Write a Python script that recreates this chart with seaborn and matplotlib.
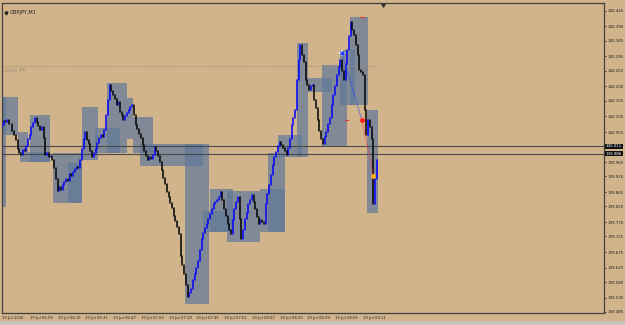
import matplotlib
matplotlib.use("Agg")
import matplotlib.pyplot as plt
import matplotlib.transforms as mtransforms
from matplotlib.patches import Rectangle
import numpy as np
import pandas as pd
import seaborn as sns

# GBPJPY M1 closes, one per minute starting 19 Jul 2016 05:43
closes = [
    140.079, 140.090, 140.088, 140.095, 140.080, 140.082, 140.060, 140.047, 140.030, 140.000,
    139.990, 139.984, 139.998, 139.994, 140.010, 140.032, 140.045, 140.070, 140.085, 140.101,
    140.088, 140.075, 140.063, 140.070, 140.038, 139.984, 139.990, 139.975, 139.980, 139.968,
    139.940, 139.905, 139.867, 139.880, 139.872, 139.889, 139.898, 139.905, 139.900, 139.921,
    139.915, 139.930, 139.937, 139.945, 139.940, 139.968, 140.000, 140.032, 140.054, 140.030,
    140.016, 139.995, 139.975, 139.990, 140.000, 140.020, 140.035, 140.047, 140.040, 140.063,
    140.110, 140.158, 140.205, 140.185, 140.174, 140.160, 140.142, 140.150, 140.120, 140.110,
    140.095, 140.105, 140.115, 140.126, 140.135, 140.142, 140.110, 140.079, 140.065, 140.050,
    140.038, 140.015, 139.994, 139.980, 139.968, 139.975, 139.970, 139.984, 140.009, 139.995,
    139.978, 139.960, 139.935, 139.911, 139.890, 139.864, 139.850, 139.832, 139.815, 139.790,
    139.772, 139.755, 139.731, 139.662, 139.635, 139.605, 139.570, 139.532, 139.545, 139.557,
    139.585, 139.605, 139.625, 139.646, 139.680, 139.716, 139.735, 139.750, 139.763, 139.780,
    139.795, 139.810, 139.826, 139.835, 139.840, 139.848, 139.864, 139.840, 139.810, 139.790,
    139.763, 139.745, 139.731, 139.775, 139.810, 139.835, 139.848, 139.779, 139.716, 139.745,
    139.779, 139.800, 139.826, 139.840, 139.855, 139.835, 139.810, 139.785, 139.763, 139.775,
    139.770, 139.763, 139.826, 139.860, 139.889, 139.920, 139.952, 139.975, 139.993, 140.010,
    140.025, 140.015, 140.006, 139.995, 139.984, 140.005, 140.032, 140.079, 140.100, 140.126,
    140.221, 140.284, 140.332, 140.300, 140.278, 140.221, 140.205, 140.190, 140.200, 140.205,
    140.158, 140.130, 140.095, 140.060, 140.032, 140.016, 140.040, 140.057, 140.080, 140.101,
    140.140, 140.174, 140.200, 140.237, 140.260, 140.284, 140.250, 140.221, 140.270, 140.316,
    140.360, 140.404, 140.380, 140.363, 140.330, 140.300, 140.253, 140.245, 140.237, 140.126,
    140.047, 140.095, 140.070, 140.032, 139.826, 139.905, 139.968,
]
first_open = 140.070

# zones: start bar, end bar, low, high
zone_start = [-1.0, -1.0, 9.4, 16.3, 10.5, 29.5, 38.2, 46.3, 53.7, 60.7, 72.2, 75.6, 79.7,
              105.6, 116.0, 120.0, 129.8, 148.8, 153.4, 159.2, 170.0, 176.5, 184.5, 194.9,
              200.6, 210.4]
zone_end = [2.5, 9.4, 15.2, 27.8, 27.8, 46.3, 46.3, 55.5, 68.1, 72.2, 75.6, 87.2, 116.0,
            119.4, 129.8, 133.2, 148.8, 163.2, 163.2, 173.0, 176.5, 190.3, 198.9, 203.5,
            211.0, 216.8]
zone_low = [139.819, 140.047, 139.993, 139.961, 139.961, 139.832, 139.832, 139.968, 139.990,
            139.990, 140.032, 139.990, 139.949, 139.510, 139.738, 139.738, 139.706, 139.738,
            139.738, 139.975, 139.975, 140.183, 140.009, 140.142, 140.142, 139.800]
zone_high = [140.167, 140.167, 140.054, 140.110, 139.993, 139.990, 139.958, 140.136, 140.069,
             140.211, 140.164, 140.104, 140.016, 140.016, 139.804, 139.874, 139.867, 139.874,
             139.990, 140.047, 140.338, 140.227, 140.269, 140.316, 140.420, 140.126]

daily_pp = 140.265
level_lines = [140.011, 139.986]

price_ticks = [140.440, 140.390, 140.345, 140.295, 140.250, 140.200, 140.155, 140.105,
               140.055, 139.960, 139.915, 139.865, 139.820, 139.770, 139.725, 139.675,
               139.625, 139.580, 139.530, 139.485]
time_tick_bars = [0, 16, 32, 48, 64, 80, 96, 112, 128, 144, 160, 176, 192, 208]
time_tick_labels = ["19 Jul 2016", "19 Jul 05:59", "19 Jul 06:15", "19 Jul 06:31",
                    "19 Jul 06:47", "19 Jul 07:03", "19 Jul 07:19", "19 Jul 07:35",
                    "19 Jul 07:51", "19 Jul 08:07", "19 Jul 08:23", "19 Jul 08:39",
                    "19 Jul 08:55", "19 Jul 09:11"]

# trade markers
trade_open = (195.9, 140.306)
trade_close = (207.4, 140.093)
trade_last = (214.1, 139.916)

bg = "#d2b48c"
sns.set_style("white")
plt.rcParams["font.family"] = ["DejaVu Sans"]

opens = [first_open] + closes[:-1]
rows = []
for i, (o, c) in enumerate(zip(opens, closes)):
    d = "up" if c >= o else "down"
    rows.append({"bar": i, "price": o, "dir": d, "unit": i})
    rows.append({"bar": i, "price": c, "dir": d, "unit": i})
df = pd.DataFrame(rows)

fig = plt.figure(figsize=(6.25, 3.25), dpi=100, facecolor=bg)
ax = fig.add_axes([2 / 625, 12 / 325, 602 / 625, 310 / 325])
ax.set_facecolor(bg)

for x0, x1, lo, hi in zip(zone_start, zone_end, zone_low, zone_high):
    ax.add_patch(Rectangle((x0, lo), x1 - x0, hi - lo, facecolor="#62799a",
                           alpha=0.72, linewidth=0, zorder=1))

ax.hlines(daily_pp, 0, 216.5, colors="#a08c72", linestyles=(0, (1, 1.5)), lw=0.8, zorder=2)
ax.text(1.5, daily_pp - 0.008, "Daily PP", color="#9c8c78", fontsize=3.6, va="top", zorder=2)

for lv in level_lines:
    ax.axhline(lv, color="#4a4a4a", lw=0.8, zorder=2)

sns.lineplot(data=df, x="bar", y="price", hue="dir", units="unit", estimator=None,
             palette={"up": "#0000ff", "down": "#000000"}, sort=False, legend=False,
             lw=1.1, ax=ax, zorder=3)

ax.plot([trade_open[0], trade_close[0]], [trade_open[1], trade_close[1]],
        ls=(0, (1, 1.2)), color="#2040ff", lw=0.8, zorder=4)
ax.plot([trade_close[0], trade_last[0]], [trade_close[1], trade_last[1]],
        ls=(0, (1, 1.2)), color="#ff3030", lw=0.8, zorder=4)
ax.plot(*trade_open, marker="+", color="#ffffff", ms=4, mew=1.2, zorder=5)
ax.plot(*trade_open, marker="o", color="#2040ff", ms=2, zorder=5)
ax.plot(*trade_close, marker="o", color="#ff2020", ms=2.5, zorder=5)
ax.plot(*trade_last, marker="o", color="#ffb020", ms=2.5, zorder=5)
ax.plot([197.5, 199.5], [140.092, 140.092], color="#e03030", lw=0.8, zorder=4)
ax.plot([206.5, 208.5], [140.420, 140.420], color="#e03030", lw=0.8, zorder=4)

ax.set_xlim(0.17, 347)
ax.set_ylim(139.4818, 140.4643)

ax.yaxis.tick_right()
ax.set_yticks(price_ticks)
ax.set_yticklabels([f"{p:.3f}" for p in price_ticks])
ax.set_xticks(time_tick_bars)
ax.set_xticklabels(time_tick_labels, ha="left")
ax.tick_params(axis="both", length=1.5, width=0.6, colors="#303030", pad=0.8)
ax.tick_params(axis="y", labelcolor="#202020", labelsize=2.9)
ax.tick_params(axis="x", labelcolor="#202020", labelsize=2.7)
ax.set_xlabel("")
ax.set_ylabel("")
for s in ax.spines.values():
    s.set_color("#404040")
    s.set_linewidth(0.9)

trans = mtransforms.blended_transform_factory(ax.transAxes, ax.transData)
for lv in level_lines:
    ax.text(1.003, lv, f"{lv:.3f}", transform=trans, fontsize=2.9, color="white",
            va="center", ha="left", clip_on=False,
            bbox=dict(boxstyle="square,pad=0.12", facecolor="#101010", edgecolor="none"))

ax.text(0.013, 0.978, "GBPJPY,M1", transform=ax.transAxes, fontsize=3.6,
        color="#202020", va="top", ha="left")
ax.plot([0.006], [0.968], transform=ax.transAxes, marker="v", color="#202020", ms=2)
ax.plot([381 / 602], [0.995], transform=ax.transAxes, marker="v", color="#303030",
        ms=2.5, clip_on=False)

fig.patches.append(Rectangle((0, 0), 1, 4 / 325, transform=fig.transFigure,
                             facecolor="#c8c4bc", edgecolor="none"))

fig.savefig("out.png", dpi=100, facecolor=fig.get_facecolor())
